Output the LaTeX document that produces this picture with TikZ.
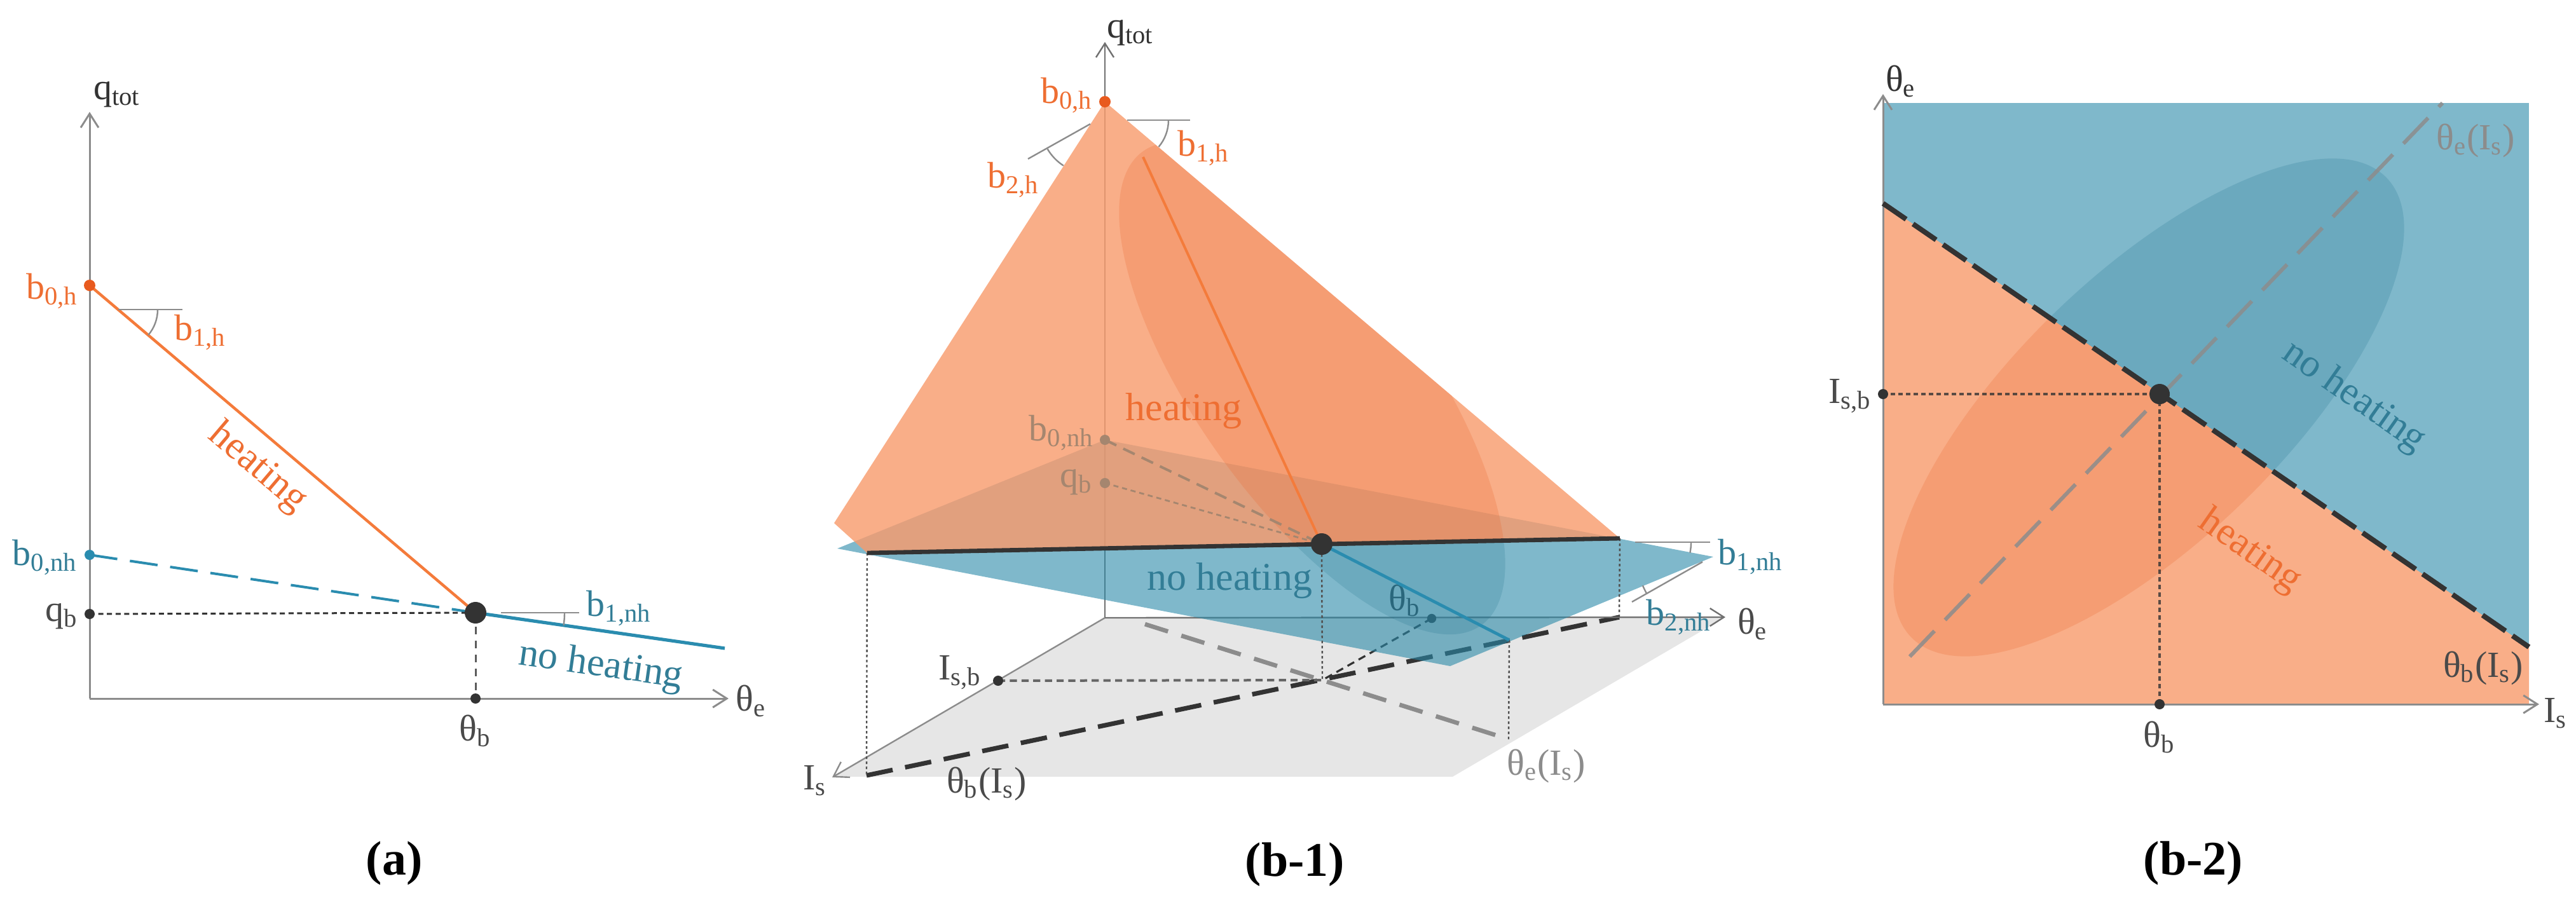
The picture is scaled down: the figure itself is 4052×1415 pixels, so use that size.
\documentclass[tikz,border=0pt]{standalone}
\usepackage{fontspec}
\setmainfont{Liberation Serif}
\usetikzlibrary{arrows.meta}
\definecolor{orL}{HTML}{F47B3B}
\definecolor{orT}{HTML}{EE6E32}
\definecolor{orD}{HTML}{E85A1E}
\definecolor{blL}{HTML}{2A8CAF}
\definecolor{blT}{HTML}{327D96}
\definecolor{orF}{HTML}{F89C6E}
\definecolor{orP}{HTML}{F9AE88}
\definecolor{blP}{HTML}{7FB8CB}
\definecolor{blQ}{HTML}{2A89A8}
\definecolor{grP}{HTML}{E6E6E6}
\definecolor{axg}{HTML}{8C8C8C}
\definecolor{dk}{HTML}{333333}
\definecolor{lbl}{HTML}{4A4A4A}
\definecolor{ovO}{HTML}{E8652A}
\definecolor{ovB}{HTML}{1F6F8C}
\definecolor{brn}{HTML}{A5866F}
\begin{document}
\begin{tikzpicture}[x=0.25pt,y=-0.25pt,
  lab/.style={font=\fontsize{14.5}{16}\selectfont, inner sep=0pt},
  big/.style={font=\fontsize{15.5}{17}\selectfont, inner sep=0pt},
  captxt/.style={font=\fontsize{19}{22}\selectfont\bfseries, inner sep=0pt},
  axis/.style={draw=axg, line width=0.75pt, -{Straight Barb[length=5.5pt,width=7pt]}},
  angmark/.style={draw=axg, line width=0.6pt},
  dot/.style={circle, fill=dk, inner sep=0pt, minimum size=4pt},
  bigdot/.style={circle, fill=dk, inner sep=0pt, minimum size=8.5pt},
  vdot/.style={draw=dk!85, line width=0.6pt, dash pattern=on 1pt off 1pt},
]
\useasboundingbox (0,0) rectangle (4052,1415);

%================ panel (a)
\coordinate (aO) at (141,1099);
\coordinate (aQ) at (141,176);
\coordinate (aT) at (1146,1099);
\coordinate (a0h) at (141,449);
\coordinate (a0nh) at (141,873);
\coordinate (aqb) at (141,966);
\coordinate (athb) at (748,1099);
\coordinate (aBD) at (748,964);
\coordinate (aBE) at (1140,1020);
\coordinate (av1) at (186,487);

\draw[axis] (aO) -- (aQ);
\draw[axis] (aO) -- (aT);
\draw[blL, line width=1pt, dash pattern=on 11pt off 5pt] (a0nh) -- (aBD);
\draw[dk, line width=0.75pt, dash pattern=on 2pt off 1.4pt] (aqb) -- (aBD);
\draw[dk!80, line width=0.75pt, dash pattern=on 3pt off 2.5pt] (aBD) -- (athb);
\draw[orL, line width=1.1pt] (a0h) -- (aBD);
\draw[blL, line width=1.3pt] (aBD) -- (aBE);
\draw[angmark] (av1) -- ++(101,0);
\draw[angmark] (av1) ++(0:62) arc[start angle=0, end angle=40.4, radius=62];
\draw[angmark] (aBD) ++(40,0) -- ++(123,0);
\draw[angmark] (aBD) ++(0:140) arc[start angle=0, end angle=8.1, radius=140];

\node[dot, fill=orD, minimum size=4.5pt] (n0h) at (a0h) {};
\node[dot, fill=blL] (n0nh) at (a0nh) {};
\node[dot] (nqb) at (aqb) {};
\node[dot] (nthb) at (athb) {};
\node[bigdot] (nbd) at (aBD) {};

\node[lab, text=dk] (lqta) at (184,149) {q\textsubscript{tot}};
\node[lab, text=orT] (lb0ha) at (82,458) {b\textsubscript{0,h}};
\node[lab, text=orT] (lb1ha) at (315,523) {b\textsubscript{1,h}};
\node[lab, text=blT] (lb0nha) at (71,877) {b\textsubscript{0,nh}};
\node[lab, text=lbl] (lqba) at (97,970) {q\textsubscript{b}};
\node[lab, text=blT] (lb1nha) at (974,957) {b\textsubscript{1,nh}};
\node[lab, text=lbl] (ltba) at (748,1150) {θ\textsubscript{b}};
\node[lab, text=lbl, anchor=west] (ltea) at (1157,1103) {θ\textsubscript{e}};
\node[big, text=orT, rotate=-40.4] (lha) at (405,736) {heating};
\node[big, text=blT, rotate=-8.1] (lnha) at (945,1049) {no heating};
\node[captxt] (capa) at (620,1358) {(a)};

%================ panel (b-1)
\coordinate (O1) at (1738,972);
\coordinate (QT1) at (1738,66);
\coordinate (TE1) at (2714,971);
\coordinate (IS1) at (1309,1223);
\coordinate (GR1) at (2712,972);
\coordinate (GR2) at (2285,1222);
\coordinate (GR3) at (1311,1222);
\coordinate (B0H) at (1738,160);
\coordinate (OL) at (1312,823);
\coordinate (BL) at (1364,870);
\coordinate (BR) at (2548,847);
\coordinate (BP00) at (1738,692);
\coordinate (BPL) at (1317,863);
\coordinate (BPB) at (2281,1048);
\coordinate (BPR) at (2695,876);
\coordinate (QB1) at (1738,760);
\coordinate (BD) at (2079,856);
\coordinate (OT) at (1798,247);
\coordinate (BE) at (2374,1007);
\coordinate (G) at (2080,1070);
\coordinate (ISB) at (1570,1071);
\coordinate (THB) at (2252,973);
\coordinate (TBL) at (1363,1220);
\coordinate (TBR) at (2547,971);
\coordinate (TEa) at (1801,982);
\coordinate (TEb) at (2373,1163);
\coordinate (EC1) at (2064,611);

\fill[grP] (O1) -- (GR1) -- (GR2) -- (GR3) -- cycle;
\draw[dk, line width=1.8pt, dash pattern=on 10.5pt off 5pt] (TBL) -- (TBR);
\draw[axg, line width=1.7pt, dash pattern=on 9.5pt off 5.5pt] (TEa) -- (TEb);
\draw[dk!75, line width=1pt, dash pattern=on 2.8pt off 1.8pt] (ISB) -- (G);
\draw[dk, line width=0.8pt, dash pattern=on 3pt off 2pt] (THB) -- (G);
\draw[axis, draw=dk!70, line width=0.6pt] (O1) -- (QT1);
\draw[axis, draw=dk!70, line width=0.6pt] (O1) -- (TE1);
\draw[axis, line width=0.6pt] (O1) -- (IS1);
\node[dot, minimum size=3.6pt] (nthb1) at (THB) {};
\node[lab, text=dk] (ltb1) at (2210,945) {θ\textsubscript{b}};

\fill[blQ, fill opacity=0.6] (BP00) -- (BPL) -- (BPB) -- (BPR) -- cycle;
\fill[orF, fill opacity=0.82] (B0H) -- (OL) -- (BL) -- (BR) -- cycle;
\begin{scope}
  \clip (B0H) -- (OL) -- (BL) -- (BR) -- cycle;
  \fill[ovO, fill opacity=0.22, rotate around={-54.5:(EC1)}] (EC1) ellipse[x radius=458, y radius=180];
\end{scope}
\begin{scope}
  \clip (BPL) -- (BPB) -- (BPR) -- (BR) -- (BL) -- cycle;
  \fill[ovB, fill opacity=0.2, rotate around={-54.5:(EC1)}] (EC1) ellipse[x radius=458, y radius=180];
\end{scope}

\draw[vdot] (BL) -- (TBL);
\draw[vdot] (BR) -- (TBR);
\draw[vdot] (BD) -- (G);
\draw[vdot] (BE) -- (TEb);
\draw[brn, line width=1pt, dash pattern=on 5pt off 3pt] (BP00) -- (BD);
\draw[brn, line width=0.7pt, dash pattern=on 2pt off 1.5pt] (QB1) -- (BD);
\draw[dk, line width=1.7pt] (BL) -- (BR);
\draw[orL, line width=1pt] (OT) -- (BD);
\draw[blL, line width=1.2pt] (BD) -- (BE);

% angle marks
\draw[angmark] (1773,189) -- (1872,189);
\draw[angmark] (1773,189) ++(0:65) arc[start angle=0, end angle=40.3, radius=65];
\draw[angmark] (1715,195) -- (1617,250);
\draw[angmark] (1715,195) ++(122.7:78) arc[start angle=122.7, end angle=149.7, radius=78];
\draw[angmark] (2572,853) -- (2690,853);
\draw[angmark] (2572,853) ++(0:88) arc[start angle=0, end angle=10.9, radius=88];
\draw[angmark] (2678,884) -- (2567,947);
\draw[angmark] (2693,876) ++(150.5:118) arc[start angle=150.5, end angle=157.5, radius=118];

\node[dot, fill=orD, minimum size=4.5pt] (n0h1) at (B0H) {};
\node[dot, fill=brn] (n0nh1) at (BP00) {};
\node[dot, fill=brn] (nqb1) at (QB1) {};
\node[dot] (nisb1) at (ISB) {};
\node[bigdot] (nbd1) at (BD) {};

\node[lab, text=dk] (lqt1) at (1778,52) {q\textsubscript{tot}};
\node[lab, text=orT] (lb0h1) at (1678,150) {b\textsubscript{0,h}};
\node[lab, text=orT] (lb1h1) at (1893,233) {b\textsubscript{1,h}};
\node[lab, text=orT] (lb2h1) at (1594,283) {b\textsubscript{2,h}};
\node[lab, text=brn] (lb0nh1) at (1670,681) {b\textsubscript{0,nh}};
\node[lab, text=brn] (lqb1) at (1693,759) {q\textsubscript{b}};
\node[big, text=orT] (lh1) at (1862,647) {heating};
\node[big, text=blT] (lnh1) at (1934,914) {no heating};
\node[lab, text=lbl] (lisb1) at (1510,1058) {I\textsubscript{s,b}};
\node[lab, text=lbl] (lis1) at (1282,1228) {I\textsubscript{s}};
\node[lab, text=lbl] (ltbi1) at (1552,1233) {θ\textsubscript{b}(I\textsubscript{s})};
\node[lab, text=axg] (ltei1) at (2432,1205) {θ\textsubscript{e}(I\textsubscript{s})};
\node[lab, text=lbl] (lte1) at (2757,982) {θ\textsubscript{e}};
\node[lab, text=blT] (lb1nh1) at (2754,876) {b\textsubscript{1,nh}};
\node[lab, text=blT] (lb2nh1) at (2641,971) {b\textsubscript{2,nh}};
\node[captxt] (capb1) at (2037,1360) {(b-1)};

%================ panel (b-2)
\coordinate (O2) at (2962,1108);
\coordinate (TE2) at (2962,148);
\coordinate (IS2) at (3994,1108);
\coordinate (R1) at (2962,162);
\coordinate (R2) at (3978,1108);
\coordinate (D1) at (2962,320);
\coordinate (D2) at (3978,1018);
\coordinate (D3) at (3978,1108);
\coordinate (BD2) at (3397,620);
\coordinate (ISB2) at (2962,620);
\coordinate (THB2) at (3397,1108);
\coordinate (E1) at (3004,1033);
\coordinate (E2) at (3842,162);
\coordinate (EC2) at (3380,641);

\fill[blP] (R1) rectangle (R2);
\fill[orP] (D1) -- (D2) -- (D3) -- (O2) -- cycle;
\begin{scope}
  \clip (D1) -- (D2) -- (D3) -- (O2) -- cycle;
  \fill[ovO, fill opacity=0.22, rotate around={44:(EC2)}] (EC2) ellipse[x radius=520, y radius=210];
\end{scope}
\begin{scope}
  \clip (R1) -- (3978,162) -- (D2) -- (D1) -- cycle;
  \fill[ovB, fill opacity=0.2, rotate around={44:(EC2)}] (EC2) ellipse[x radius=520, y radius=210];
\end{scope}
\draw[axis] (O2) -- (TE2);
\draw[axis] (O2) -- (IS2);
\draw[axg, draw opacity=0.85, line width=1.5pt, dash pattern=on 14pt off 6pt] (E1) -- (E2);
\draw[dk, draw opacity=0.8, line width=0.85pt, dash pattern=on 1.8pt off 1.2pt] (ISB2) -- (BD2);
\draw[dk, draw opacity=0.8, line width=0.85pt, dash pattern=on 1.8pt off 1.2pt] (BD2) -- (THB2);
\draw[dk, line width=2pt, dash pattern=on 11pt off 3.3pt] (D1) -- (D2);
\node[dot] (nisb2) at (ISB2) {};
\node[dot] (nthb2) at (THB2) {};
\node[bigdot, minimum size=8pt] (nbd2) at (BD2) {};

\node[lab, text=dk] (lte2) at (2990,128) {θ\textsubscript{e}};
\node[lab, text=lbl] (lis2) at (4020,1122) {I\textsubscript{s}};
\node[lab, text=lbl] (lisb2) at (2910,623) {I\textsubscript{s,b}};
\node[lab, text=lbl] (ltb2) at (3397,1160) {θ\textsubscript{b}};
\node[lab, text=axg] (ltei2) at (3894,221) {θ\textsubscript{e}(I\textsubscript{s})};
\node[lab, text=lbl] (ltbi2) at (3906,1051) {θ\textsubscript{b}(I\textsubscript{s})};
\node[big, text=blT, rotate=-35] (lnh2) at (3702,625) {no heating};
\node[big, text=orT, rotate=-35] (lh2) at (3539,868) {heating};
\node[captxt] (capb2) at (3450,1358) {(b-2)};
\end{tikzpicture}
\end{document}
